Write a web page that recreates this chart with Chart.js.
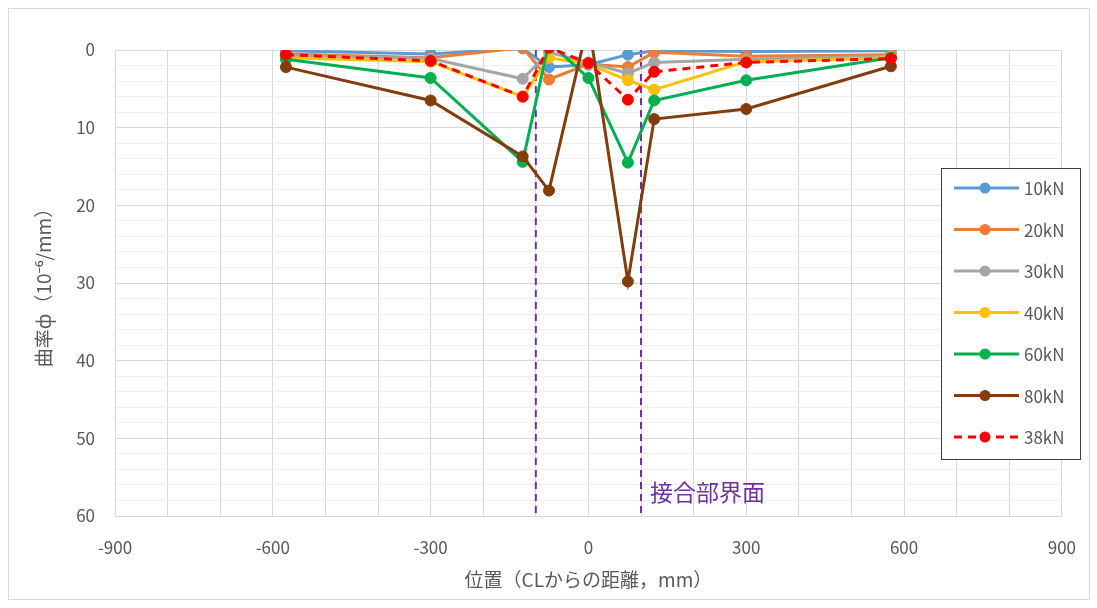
<!DOCTYPE html>
<html lang="ja">
<head>
    <meta charset="UTF-8">
    <meta name="viewport" content="width=device-width, initial-scale=1.0">
    <title>曲率分布</title>
    <script src="https://cdn.jsdelivr.net/npm/chart.js"></script>
    <style>
        html, body { margin: 0; padding: 0; background: #fff; }
        #wrap { width: 1097px; height: 608px; position: relative; }
    </style>
</head>
<body>
    <div id="wrap">
        <canvas id="myChart"></canvas>
    </div>

    <script>
// 位置 (mm)
const positions = [-575, -300, -125, -75, 0, 75, 125, 300, 575];

// 曲率 (10^-6/mm)
const kN10 = [0.1, 0.5, -0.2, 2.2, 1.9, 0.6, 0.1, 0.2, 0.1];
const kN20 = [0.5, 1.0, -0.3, 3.8, 1.8, 2.2, 0.3, 0.8, 0.6];
const kN30 = [0.7, 1.1, 3.7, 0.3, 1.6, 3.0, 1.6, 1.2, 0.8];
const kN40 = [1.0, 1.5, 6.0, 1.0, 1.8, 3.9, 5.1, 1.5, 1.0];
const kN60 = [1.2, 3.6, 14.4, -1.0, 3.6, 14.5, 6.5, 3.9, 1.0];
const kN80 = [2.2, 6.5, 13.7, 18.1, -3.7, 29.8, 8.9, 7.6, 2.1];
const kN38 = [0.6, 1.4, 6.0, -0.3, 1.7, 6.4, 2.8, 1.6, 1.1];

const seriesNames = ["10kN", "20kN", "30kN", "40kN", "60kN", "80kN", "38kN"];

// 接合部界面の位置
const interfaceX = [-100, 100];
const interfaceLabel = "接合部界面";

const xTicks = [-900, -600, -300, 0, 300, 600, 900];
const yTicks = [0, 10, 20, 30, 40, 50, 60];

const GRAY = "#595959";
const FONT = "'Noto Sans CJK JP', 'Noto Sans', sans-serif";

function toPoints(values) {
    return values.map((v, i) => ({ x: positions[i], y: v }));
}

function series(label, values, color, order, dashed) {
    return {
        label: label,
        data: toPoints(values),
        borderColor: color,
        backgroundColor: color,
        pointBackgroundColor: color,
        pointBorderColor: color,
        borderWidth: 3,
        borderDash: dashed ? [8, 6] : [],
        pointRadius: 5.5,
        pointBorderWidth: 1,
        tension: 0,
        order: order
    };
}

function interfaceLine(x) {
    return {
        label: "",
        isGuide: true,
        data: [{ x: x, y: 0 }, { x: x, y: 60 }],
        borderColor: "#7030A0",
        borderWidth: 2,
        borderDash: [7, 5],
        pointRadius: 0,
        order: 20
    };
}

const datasets = [
    series(seriesNames[0], kN10, "#5B9BD5", 6),
    series(seriesNames[1], kN20, "#ED7D31", 5),
    series(seriesNames[2], kN30, "#A5A5A5", 4),
    series(seriesNames[3], kN40, "#FFC000", 3),
    series(seriesNames[4], kN60, "#00B050", 2),
    series(seriesNames[5], kN80, "#843C0C", 1),
    series(seriesNames[6], kN38, "#FF0000", 0, true),
    interfaceLine(interfaceX[0]),
    interfaceLine(interfaceX[1])
];

// 枠線・凡例・注記を描くプラグイン
const decorations = {
    id: "decorations",
    beforeDraw(chart) {
        const ctx = chart.ctx;
        ctx.save();
        ctx.fillStyle = "#fff";
        ctx.fillRect(0, 0, chart.width, chart.height);
        ctx.strokeStyle = "#d9d9d9";
        ctx.lineWidth = 1;
        ctx.strokeRect(8.5, 8.5, 1081, 591);
        ctx.restore();
    },
    afterDraw(chart) {
        const ctx = chart.ctx;
        const xs = chart.scales.x;
        const ys = chart.scales.y;
        ctx.save();

        // 注記
        ctx.fillStyle = "#7030A0";
        ctx.font = "23px " + FONT;
        ctx.textBaseline = "middle";
        ctx.textAlign = "left";
        ctx.fillText(interfaceLabel, xs.getPixelForValue(interfaceX[1]) + 9, ys.getPixelForValue(57.0));

        // 凡例
        const bx = 941, by = 168, bw = 139, bh = 291;
        ctx.fillStyle = "#fff";
        ctx.fillRect(bx, by, bw, bh);
        ctx.strokeStyle = "#404040";
        ctx.lineWidth = 1;
        ctx.strokeRect(bx + 0.5, by + 0.5, bw, bh);

        const items = chart.data.datasets.filter(d => !d.isGuide);
        items.forEach((d, i) => {
            const y = by + 20 + i * 41.5;
            ctx.strokeStyle = d.borderColor;
            ctx.lineWidth = 3;
            ctx.setLineDash(d.borderDash || []);
            ctx.beginPath();
            ctx.moveTo(954, y);
            ctx.lineTo(1019, y);
            ctx.stroke();
            ctx.setLineDash([]);
            ctx.fillStyle = d.pointBackgroundColor;
            ctx.beginPath();
            ctx.arc(985, y, 5.5, 0, Math.PI * 2);
            ctx.fill();
            ctx.fillStyle = GRAY;
            ctx.font = "17px " + FONT;
            ctx.textAlign = "left";
            ctx.textBaseline = "middle";
            ctx.fillText(d.label, 1024, y + 1);
        });
        ctx.restore();
    }
};

const config = {
    type: "line",
    data: { datasets: datasets },
    options: {
        responsive: false,
        animation: false,
        layout: { padding: { left: 20, top: 50, right: 34, bottom: 0 } },
        plugins: {
            legend: { display: false },
            tooltip: { enabled: false }
        },
        scales: {
            x: {
                type: "linear",
                min: xTicks[0],
                max: xTicks[xTicks.length - 1],
                afterFit(scale) { scale.height = 92; },
                ticks: {
                    stepSize: 100,
                    autoSkip: false,
                    maxRotation: 0,
                    padding: 21,
                    color: GRAY,
                    font: { family: FONT, size: 17 },
                    callback: v => xTicks.includes(v) ? String(v) : ""
                },
                grid: { color: "#d9d9d9", drawTicks: false },
                border: { color: "#d9d9d9" },
                title: {
                    display: true,
                    text: "位置（CLからの距離，mm）",
                    color: GRAY,
                    font: { family: FONT, size: 19 },
                    padding: { top: 0, bottom: 17 }
                }
            },
            y: {
                type: "linear",
                reverse: true,
                min: yTicks[0],
                max: yTicks[yTicks.length - 1],
                afterFit(scale) { scale.width = 95; },
                ticks: {
                    stepSize: 2,
                    autoSkip: false,
                    padding: 20,
                    color: GRAY,
                    font: { family: FONT, size: 17 },
                    callback: v => yTicks.includes(v) ? String(v) : ""
                },
                grid: {
                    drawTicks: false,
                    color: ctx => (ctx.tick && ctx.tick.value % 10 === 0) ? "#d9d9d9" : "#efefef"
                },
                border: { color: "#d9d9d9" },
                title: {
                    display: true,
                    text: "曲率ф（10⁻⁶/mm）",
                    color: GRAY,
                    font: { family: FONT, size: 19 },
                    padding: { top: 12, bottom: 0 }
                }
            }
        }
    },
    plugins: [decorations]
};

const canvas = document.getElementById("myChart");
canvas.width = 1097;
canvas.height = 608;
new Chart(canvas, config);
    </script>
</body>
</html>
